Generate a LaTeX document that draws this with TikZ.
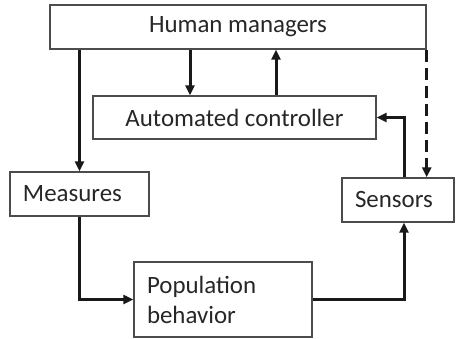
\documentclass[tikz,border=0pt]{standalone}
\usepackage{fontspec}
\setmainfont{Carlito}
\usetikzlibrary{arrows.meta}

\begin{document}
\begin{tikzpicture}[x=1bp,y=1bp,>={Triangle[length=10bp,width=9bp]},
    box/.style={draw=black!70,line width=1.4bp,inner sep=0pt,text=black!85,
      font=\fontsize{25}{30}\selectfont},
    lbox/.style={box,align=left,inner xsep=13bp,text width=#1},
    flow/.style={->,line width=3bp,black!90}]

  \useasboundingbox (0,0) rectangle (456,338);

  \node[box,minimum width=376bp,minimum height=44bp] (human) at (238,311) {Human managers};
  \node[box,minimum width=283bp,minimum height=43bp] (auto) at (234.5,220.5) {Automated controller};
  \node[lbox=113bp,minimum height=44bp] (meas) at (79.5,144) {Measures};
  \node[lbox=86bp,minimum height=44bp] (sens) at (398,138) {Sensors};
  \node[lbox=152bp,minimum height=75bp] (pop) at (223,38.5) {Population\\behavior};

  \draw[flow] (human.south -| meas.north) -- (meas.north);
  \draw[flow] ([xshift=-44.5bp]auto.north |- human.south) -- ([xshift=-44.5bp]auto.north);
  \draw[flow] ([xshift=41.5bp]auto.north) -- ([xshift=41.5bp]auto.north |- human.south);
  \draw[flow,dash pattern=on 12bp off 6bp] (human.south east) -- (human.south east |- sens.north);
  \draw[flow] ([xshift=6bp]sens.north) |- (auto.east);
  \draw[flow] (meas.south) |- (pop.west);
  \draw[flow] (pop.east) -| ([xshift=6bp]sens.south);

\end{tikzpicture}
\end{document}
